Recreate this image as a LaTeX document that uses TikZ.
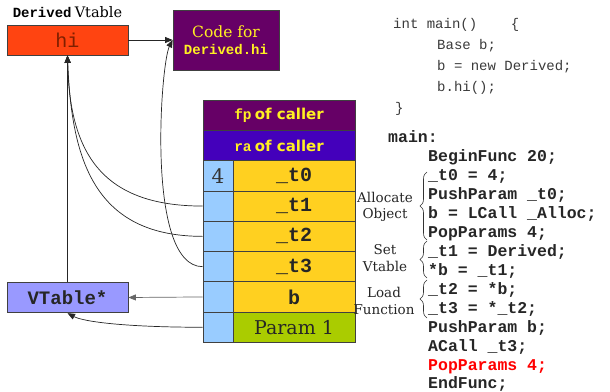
\documentclass[tikz,border=0pt]{standalone}
\usepackage{fontspec}
\setmainfont{DejaVu Serif}
\setmonofont{Liberation Mono}
\newfontfamily\sansbf{DejaVu Sans}
\usetikzlibrary{arrows.meta,calc,decorations.pathreplacing}
\newcommand\myfs[1]{\fontsize{#1}{#1}\selectfont}
\definecolor{hired}{HTML}{FF4411}
\definecolor{hitext}{HTML}{7F1F00}
\definecolor{cpurple}{HTML}{660066}
\definecolor{cviolet}{HTML}{4400BB}
\definecolor{cblue}{HTML}{99CCFF}
\definecolor{cyellow}{HTML}{FFD020}
\definecolor{cgreen}{HTML}{AACC00}
\definecolor{cvt}{HTML}{9999FF}
\definecolor{ytext}{HTML}{FFF022}
\definecolor{codegray}{HTML}{3A3A3A}
\begin{document}
\begin{tikzpicture}[x=1pt,y=-1pt,
  boxst/.style={draw=black!75, line width=0.8pt, inner sep=0pt},
  cell/.style={boxst, minimum height=30.3pt},
  bcell/.style={cell, fill=cblue, minimum width=30pt},
  ycell/.style={cell, fill=cyellow, minimum width=122pt, text=black!85, font=\ttfamily\bfseries\myfs{20}},
  wide/.style={cell, minimum width=152pt, text=ytext},
  arr/.style={draw=black!85, line width=0.7pt, -{Triangle[length=7.5pt,width=6pt]}},
  asm/.style={anchor=base west, inner sep=0pt, font=\ttfamily\bfseries\myfs{16.5}, text=black!85},
  src/.style={anchor=base west, inner sep=0pt, font=\ttfamily\myfs{14}, text=codegray},
  lab/.style={inner sep=0pt, align=center, font=\fontsize{13.5}{16.5}\selectfont, text=black!85},
  bracest/.style={draw=black!80, line width=0.6pt, decorate, decoration={brace, amplitude=7pt, aspect=0.5}}
]
\useasboundingbox (0,0) rectangle (610,391);

% Vtable
\node[inner sep=0pt, anchor=base] (vtl) at (67.5,17.5) {{\ttfamily\bfseries\myfs{14}Derived} {\myfs{14.5}Vtable}};
\node[boxst, fill=hired, minimum width=121pt, minimum height=30pt, text=hitext, font=\ttfamily\myfs{20}] (hi) at (67.5,40) {hi};
\node[boxst, fill=cpurple, minimum width=106pt, minimum height=60pt, text=ytext, align=center, font=\fontsize{15.5}{16.5}\selectfont] (code) at (226,40)
  {Code for\\{\ttfamily\bfseries\myfs{14}Derived.hi}};

% Stack
\node[wide, fill=cpurple] (fp) at (279,115.15) {{\ttfamily\bfseries\myfs{14.5}fp} {\sansbf\bfseries\myfs{15}of caller}};
\node[wide, fill=cviolet] (ra) at (279,145.45) {{\ttfamily\bfseries\myfs{14.5}ra} {\sansbf\bfseries\myfs{15}of caller}};
\node[bcell, font=\myfs{20}, text=black!80] (n0) at (218,175.75) {4};
\node[bcell] (n1) at (218,206.05) {};
\node[bcell] (n2) at (218,236.35) {};
\node[bcell] (n3) at (218,266.65) {};
\node[bcell] (n4) at (218,296.95) {};
\node[bcell] (n5) at (218,327.25) {};
\node[ycell] (c0) at (294,175.75) {\_t0};
\node[ycell] (c1) at (294,206.05) {\_t1};
\node[ycell] (c2) at (294,236.35) {\_t2};
\node[ycell] (c3) at (294,266.65) {\_t3};
\node[ycell] (c4) at (294,296.95) {b};
\node[ycell, fill=cgreen, font=\myfs{19}] (c5) at (294,327.25) {Param 1};

% VTable*
\node[boxst, fill=cvt, minimum width=121pt, minimum height=30.5pt, text=black!85, font=\ttfamily\bfseries\myfs{19}] (vt) at (67.5,297.5) {VTable*};

% connectors
\draw[arr] (hi.east) -- (code.west);
\draw[arr] (vt.north) -- (hi.south);
\draw[arr] (n1.west) .. controls ($(n1.west)+(-103,0)$) and ($(hi.south)+(2,95)$) .. (hi.south);
\draw[arr] (n2.west) .. controls ($(n2.west)+(-108,0)$) and ($(hi.south)+(4,105)$) .. (hi.south);
\draw[arr] (n3.west) .. controls ($(n3.west)+(-57,0)$) and ($(code.west)+(-12,24)$) .. (code.west);
\draw[arr, draw=black!60] (n4.west) -- (vt.east);
\draw[arr] (n5.west) .. controls ($(n5.west)+(-73,0)$) and ($(vt.south)+(17,9)$) .. (vt.south);

% source code
\node[src] (s0) at (393,28) {int main()\ \ \ \ \{};
\node[src] (s1) at (437,49) {Base b;};
\node[src] (s2) at (437,70) {b = new Derived;};
\node[src] (s3) at (437,91) {b.hi();};
\node[src] (s4) at (395,112) {\}};

% assembly
\node[asm] (a0) at (388,142.7) {main:};
\node[asm] (a1) at (428,161.9) {BeginFunc 20;};
\node[asm] (a2) at (428,180.9) {\_t0 = 4;};
\node[asm] (a3) at (428,199.8) {PushParam \_t0;};
\node[asm] (a4) at (428,218.8) {b = LCall \_Alloc;};
\node[asm] (a5) at (428,237.8) {PopParams 4;};
\node[asm] (a6) at (428,256.7) {\_t1 = Derived;};
\node[asm] (a7) at (428,275.7) {*b = \_t1;};
\node[asm] (a8) at (428,294.6) {\_t2 = *b;};
\node[asm] (a9) at (428,313.6) {\_t3 = *\_t2;};
\node[asm] (a10) at (428,332.5) {PushParam b;};
\node[asm] (a11) at (428,351.5) {ACall \_t3;};
\node[asm, text=red] (a12) at (428,370.4) {PopParams 4;};
\node[asm] (a13) at (428,388.6) {EndFunc;};

% braces
\draw[bracest] (427,240) -- (427,172);
\draw[bracest] (427,278) -- (427,241);
\draw[bracest] (427,318) -- (427,280);
\node[lab] (l1) at (385,207) {Allocate\\Object};
\node[lab] (l2) at (385,258) {Set\\Vtable};
\node[lab] (l3) at (384,301) {Load\\Function};
\end{tikzpicture}
\end{document}
